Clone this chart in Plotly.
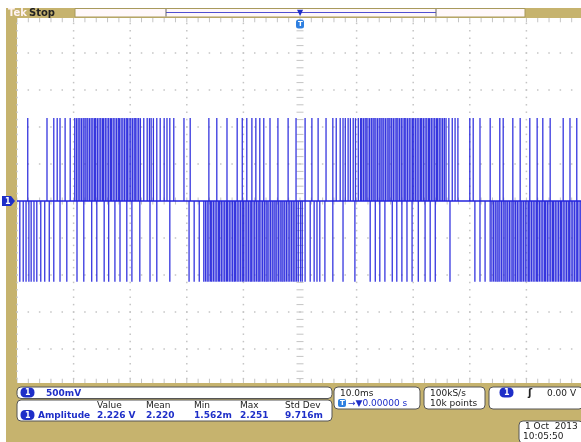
import plotly.graph_objects as go

# ---------------- data ----------------
# times (ms, trigger at 0) of the positive-going pulses
pos_pulse_ms = [
    -48.1, -44.7, -43.5, -42.9, -42.4, -41.5, -40.6,
    -39.8, -39.5, -39.2, -38.9, -38.6, -38.3, -38.0, -37.8, -37.5, -37.2, -36.9, -36.6,
    -36.3, -36.1, -35.8, -35.5, -35.2, -34.9, -34.7, -34.4, -34.1, -33.8, -33.5, -33.3,
    -33.0, -32.7, -32.4, -32.1, -31.9, -31.6, -31.3, -31.0, -30.7, -30.5, -30.2, -29.9,
    -29.6, -29.3, -29.1, -28.8, -28.5, -28.2,
    -27.6, -27.0, -26.6, -26.3, -25.9, -25.3, -24.7, -24.0, -23.5, -23.0, -22.3, -20.5, -19.4,
    -16.1, -14.7, -12.9, -11.1, -10.2, -9.4, -8.5, -7.8, -7.1, -6.4, -5.3, -3.9, -2.1, -0.7,
    0.9, 2.1, 3.2, 4.6, 5.8, 6.4,
    7.1, 7.6, 8.0, 8.5, 8.9, 9.4, 9.8, 10.3, 10.7,
    10.9, 11.2, 11.5, 11.7, 12.0, 12.3, 12.6, 12.9, 13.1, 13.4, 13.7, 14.0, 14.3, 14.5,
    14.8, 15.1, 15.4, 15.7, 15.9, 16.2, 16.5, 16.8, 17.1, 17.3, 17.6, 17.9, 18.2, 18.5,
    18.7, 19.0, 19.3, 19.6, 19.9, 20.1, 20.4, 20.7, 21.0, 21.3, 21.5, 21.8, 22.1, 22.4,
    22.7, 22.9, 23.2, 23.5, 23.8, 24.1, 24.3, 24.6, 24.9, 25.2, 25.5, 25.8,
    26.3, 26.9, 27.4, 27.9,
    30.0, 30.6, 31.8, 33.6, 35.3, 35.9, 37.6, 38.9, 40.6, 41.9, 42.9, 44.2, 46.5, 47.7, 48.9,
]
# times (ms) of the negative-going pulses
neg_pulse_ms = [
    -49.5, -48.9, -48.4, -47.9, -47.5, -47.0, -46.5, -45.8, -45.1, -44.3, -43.5, -42.4,
    -41.2, -39.4, -38.2, -36.8, -35.9, -34.6, -33.8, -32.7, -31.8, -30.6, -29.7, -28.3,
    -26.5, -25.3, -23.0, -19.6, -18.7, -17.8,
    -17.0, -16.7, -16.4, -16.1, -15.8, -15.6, -15.3, -15.0, -14.7, -14.4, -14.2, -13.9,
    -13.6, -13.3, -13.0, -12.8, -12.5, -12.2, -11.9, -11.6, -11.4, -11.1, -10.8, -10.5,
    -10.2, -10.0, -9.7, -9.4, -9.1, -8.8, -8.6, -8.3, -8.0, -7.7, -7.4, -7.2, -6.9, -6.6,
    -6.3, -6.0, -5.8, -5.5, -5.2, -4.9, -4.6, -4.4, -4.1, -3.8, -3.5, -3.2, -3.0, -2.7,
    -2.4, -2.1, -1.8, -1.5, -1.2, -0.9, -0.6, -0.3, 0.1, 0.4,
    0.9, 1.8, 2.5, 3.0, 3.5, 4.4, 5.8, 7.6, 9.7, 12.4, 13.3, 14.1, 15.0, 16.3, 17.1, 18.0,
    18.9, 19.8, 20.9, 22.1, 23.0, 23.9, 26.5, 30.9, 31.8, 32.7,
    33.6, 33.9, 34.2, 34.5, 34.8, 35.0, 35.3, 35.6, 35.9, 36.2, 36.4, 36.7, 37.0, 37.3,
    37.6, 37.8, 38.1, 38.4, 38.7, 39.0, 39.2, 39.5, 39.8, 40.1, 40.4, 40.6, 40.9, 41.2,
    41.5, 41.8, 42.0, 42.3, 42.6, 42.9, 43.2, 43.4, 43.7, 44.0, 44.3, 44.6, 44.8, 45.1,
    45.4, 45.7, 46.0, 46.2, 46.5, 46.8, 47.1, 47.4, 47.6, 47.9, 48.2, 48.5, 48.8, 49.0,
    49.3, 49.6,
]
pulse_high_v = 1.12
pulse_low_v = -1.09
baseline_v = 0.0

volts_per_div = 0.5
ms_per_div = 10.0

meas_headers = ["Value", "Mean", "Min", "Max", "Std Dev"]
meas_values = ["2.226 V", "2.220", "1.562m", "2.251", "9.716m"]
meas_name = "Amplitude"
ch_scale = "500mV"
time_scale = "10.0ms"
time_pos = "\u2192\u25bc0.00000 s"
sample_rate = "100kS/s"
record_len = "10k points"
trig_level = "0.00 V"
date_text = "1 Oct  2013"
time_text = "10:05:50"

# ---------------- geometry ----------------
W, H = 581, 442
L, R, T, B = 17, 0, 18, 59
plot_w = W - L - R
plot_h = H - T - B
px_per_div_x = 56.6
px_per_div_y = 37.0
cx_px, cy_px = 300.0, 201.0
px_per_ms = px_per_div_x / ms_per_div
px_per_v = px_per_div_y / volts_per_div
x0 = (L - cx_px) / px_per_ms
x1 = (W - R - cx_px) / px_per_ms
y1 = (cy_px - T) / px_per_v
y0 = -(H - B - cy_px) / px_per_v

TAN = "#C6B36E"
BLUE = "#2323DC"
TXT_BLUE = "#1E2EC8"
GRID = "#C4C4C4"
FONT = "DejaVu Sans"


def px(xp):
    return (xp - L) / plot_w


def py(yp):
    return (H - B - yp) / plot_h


def rrect(xa, ya, xb, yb, r=4):
    # rounded rectangle path in paper coordinates (input in pixels)
    pts = [
        f"M{px(xa + r)},{py(ya)}", f"L{px(xb - r)},{py(ya)}",
        f"Q{px(xb)},{py(ya)} {px(xb)},{py(ya + r)}", f"L{px(xb)},{py(yb - r)}",
        f"Q{px(xb)},{py(yb)} {px(xb - r)},{py(yb)}", f"L{px(xa + r)},{py(yb)}",
        f"Q{px(xa)},{py(yb)} {px(xa)},{py(yb - r)}", f"L{px(xa)},{py(ya + r)}",
        f"Q{px(xa)},{py(ya)} {px(xa + r)},{py(ya)}", "Z",
    ]
    return " ".join(pts)


fig = go.Figure()

# ---------------- graticule ----------------
def frange(a, b, step):
    out = []
    v = a
    while v <= b + 1e-9:
        out.append(round(v, 6))
        v += step
    return out

hx, hy = [], []
for k in range(-4, 5):
    if k == 0:
        continue
    for t in frange(-50, 50, ms_per_div / 5):
        hx.append(t)
        hy.append(k * volts_per_div)
vx, vy = [], []
for k in range(-5, 6):
    if k == 0:
        continue
    for v in frange(-2.4, 2.45, volts_per_div / 5):
        vx.append(k * ms_per_div)
        vy.append(v)
fig.add_trace(go.Scatter(x=hx + vx, y=hy + vy, mode="markers",
                         marker=dict(symbol="square", size=1.5, color=GRID),
                         hoverinfo="skip", cliponaxis=False))
# center axes ticks
tv = frange(-2.4, 2.45, volts_per_div / 5)
fig.add_trace(go.Scatter(x=[0] * len(tv), y=tv, mode="markers",
                         marker=dict(symbol="line-ew", size=5, line=dict(width=1, color=GRID)),
                         hoverinfo="skip"))
th = frange(-50, 50, ms_per_div / 5)
fig.add_trace(go.Scatter(x=th, y=[0] * len(th), mode="markers",
                         marker=dict(symbol="line-ns", size=5, line=dict(width=1, color=GRID)),
                         hoverinfo="skip"))
# edge ticks
fig.add_trace(go.Scatter(x=th + th, y=[y1 - 0.02] * len(th) + [y0 + 0.02] * len(th), mode="markers",
                         marker=dict(symbol="line-ns", size=4, line=dict(width=1, color=GRID)),
                         hoverinfo="skip"))

# ---------------- signal ----------------
xs, ys = [], []
for t in pos_pulse_ms:
    xs += [t, t, None]
    ys += [baseline_v, pulse_high_v, None]
for t in neg_pulse_ms:
    xs += [t, t, None]
    ys += [baseline_v, pulse_low_v, None]
fig.add_trace(go.Scatter(x=xs, y=ys, mode="lines", line=dict(color=BLUE, width=1.3),
                         opacity=0.92, hoverinfo="skip"))
fig.add_trace(go.Scatter(x=[x0, x1], y=[baseline_v, baseline_v], mode="lines",
                         line=dict(color=BLUE, width=1.6), hoverinfo="skip"))

# ---------------- decorations ----------------
shapes = []
# white screenshot margins
shapes.append(dict(type="rect", xref="paper", yref="paper", x0=px(0), x1=px(W), y0=py(0), y1=py(8),
                   fillcolor="white", line=dict(width=0), layer="below"))
shapes.append(dict(type="rect", xref="paper", yref="paper", x0=px(0), x1=px(6), y0=py(0), y1=py(H),
                   fillcolor="white", line=dict(width=0), layer="below"))
# record bar
shapes.append(dict(type="rect", xref="paper", yref="paper", x0=px(75), x1=px(525), y0=py(8.5), y1=py(17),
                   fillcolor="#FFF8FA", line=dict(width=1, color="#A89A5C")))
shapes.append(dict(type="line", xref="paper", yref="paper", x0=px(166), x1=px(436), y0=py(12.5), y1=py(12.5),
                   line=dict(width=1.2, color="#5050D0")))
for xb in (166, 436):
    shapes.append(dict(type="line", xref="paper", yref="paper", x0=px(xb), x1=px(xb), y0=py(9), y1=py(16.5),
                       line=dict(width=1, color="#666666")))
# bottom info boxes
boxes = [(17, 387, 332, 398.5), (17, 400, 332, 421), (334, 387, 420, 409),
         (424, 387, 485, 409), (489, 387, 583, 409), (519, 421, 583, 443)]
for (a, b, c, d) in boxes:
    shapes.append(dict(type="path", xref="paper", yref="paper", path=rrect(a, b, c, d, 4),
                       fillcolor="white", line=dict(width=1, color="#555555")))

annots = []


def text(xp, yp, s, color="#111111", size=9, anchor="left", bold=False):
    annots.append(dict(xref="paper", yref="paper", x=px(xp), y=py(yp), text=(f"<b>{s}</b>" if bold else s),
                       showarrow=False, xanchor=anchor, yanchor="middle",
                       font=dict(family=FONT, size=size, color=color)))


def badge(xp, yp, s, w=14):
    shapes.append(dict(type="path", xref="paper", yref="paper",
                       path=rrect(xp - w / 2, yp - 5, xp + w / 2, yp + 5, 5),
                       fillcolor=TXT_BLUE, line=dict(width=0)))
    annots.append(dict(xref="paper", yref="paper", x=px(xp), y=py(yp), text=f"<b>{s}</b>",
                       showarrow=False, xanchor="center", yanchor="middle",
                       font=dict(family=FONT, size=8, color="white")))


# header
text(6, 12.5, "Tek", color="#FFF4F4", size=10, bold=True)
text(27, 12.5, "Stop", color="#222222", size=10, bold=True)
# trigger marker
annots.append(dict(xref="paper", yref="paper", x=px(300), y=py(13), text="\u25bc", showarrow=False,
                   xanchor="center", yanchor="middle", font=dict(family=FONT, size=8, color=TXT_BLUE)))
shapes.append(dict(type="path", xref="paper", yref="paper", path=rrect(296, 19.5, 304, 28.5, 2.5),
                   fillcolor="#2E7FE0", line=dict(width=0)))
annots.append(dict(xref="paper", yref="paper", x=px(300), y=py(24), text="<b>T</b>", showarrow=False,
                   xanchor="center", yanchor="middle", font=dict(family=FONT, size=7, color="white")))
# channel marker
shapes.append(dict(type="path", xref="paper", yref="paper",
                   path=f"M{px(2)},{py(196)} L{px(11)},{py(196)} L{px(15)},{py(201)} L{px(11)},{py(206)} L{px(2)},{py(206)} Z",
                   fillcolor=TXT_BLUE, line=dict(width=0)))
annots.append(dict(xref="paper", yref="paper", x=px(7.5), y=py(201), text="<b>1</b>", showarrow=False,
                   xanchor="center", yanchor="middle", font=dict(family=FONT, size=8, color="white")))

# channel scale box
badge(27.5, 392.5, "1")
text(44, 392.5, ch_scale, color=TXT_BLUE, bold=True)
# measurement box
hdr_x = [95, 144, 192, 238, 283]
for xh, s in zip(hdr_x, meas_headers):
    text(xh, 405, s, color="#222222")
badge(27.5, 415, "1")
text(36, 415, meas_name, color=TXT_BLUE, bold=True)
for xh, s in zip(hdr_x, meas_values):
    text(xh, 415, s, color=TXT_BLUE, bold=True)
# timebase box
text(338, 392.5, time_scale, color="#222222")
shapes.append(dict(type="path", xref="paper", yref="paper", path=rrect(338, 399, 346, 407, 2),
                   fillcolor="#2E7FE0", line=dict(width=0)))
annots.append(dict(xref="paper", yref="paper", x=px(342), y=py(403), text="<b>T</b>", showarrow=False,
                   xanchor="center", yanchor="middle", font=dict(family=FONT, size=7, color="white")))
text(346, 403, time_pos, color=TXT_BLUE)
# acquisition box
text(428, 392.5, sample_rate, color="#222222")
text(428, 403, record_len, color="#222222")
# trigger box
badge(506.5, 392.5, "1")
text(530, 392.5, "\u0283", color="#222222", size=10, anchor="center", bold=True)
text(579, 392.5, trig_level, color="#222222", anchor="right")
# date box
text(580, 426.5, date_text, color="#222222", anchor="right")
text(521, 436, time_text, color="#222222")

fig.update_layout(
    width=W, height=H,
    margin=dict(l=L, r=R, t=T, b=B, pad=0),
    paper_bgcolor=TAN, plot_bgcolor="white",
    showlegend=False, hovermode=False,
    xaxis=dict(range=[x0, x1], showgrid=False, zeroline=False, showticklabels=False,
               ticks="", showline=False, fixedrange=True),
    yaxis=dict(range=[y0, y1], showgrid=False, zeroline=False, showticklabels=False,
               ticks="", showline=False, fixedrange=True),
    shapes=shapes, annotations=annots,
)

fig.write_html("out.html", config={"displayModeBar": False},
               post_script="document.body.style.margin='0';document.body.style.overflow='hidden';")
